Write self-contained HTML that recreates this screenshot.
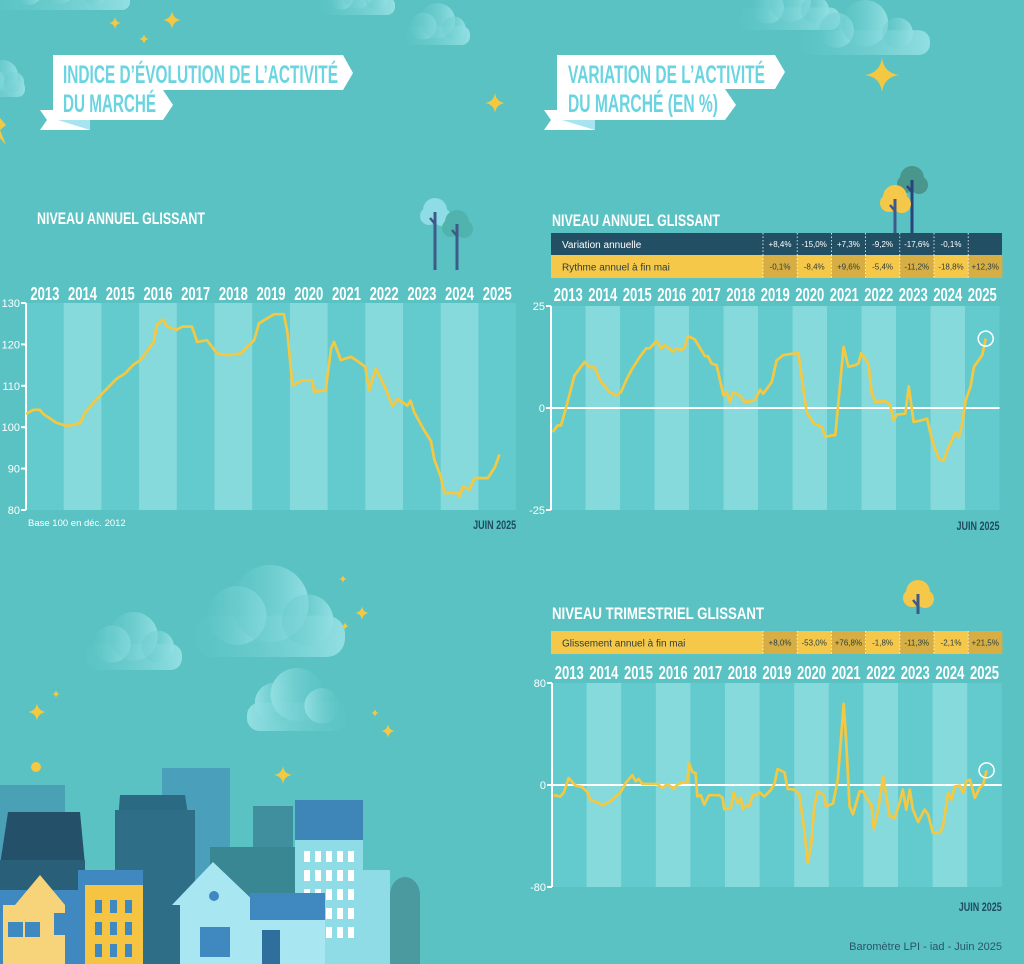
<!DOCTYPE html>
<html><head><meta charset="utf-8">
<style>
html,body{margin:0;padding:0;background:#5ac2c3;}
svg{display:block;}
.yr{font-family:"Liberation Sans Narrow","Liberation Sans",sans-serif;font-weight:bold;fill:#fff;font-size:18.5px;}
.tk{font-family:"Liberation Sans",sans-serif;fill:#fff;font-size:11px;}
.cell{font-family:"Liberation Sans",sans-serif;font-size:8px;text-anchor:middle;}
</style></head>
<body>
<svg id="root" width="1024" height="964" viewBox="0 0 1024 964" xmlns="http://www.w3.org/2000/svg">
<defs>
<linearGradient id="cg" x1="0" x2="1" y1="0" y2="0"><stop offset="0" stop-color="#5ec6c7" stop-opacity="0.3"/><stop offset="1" stop-color="#92dfe2"/></linearGradient>
<linearGradient id="cg2" x1="1" x2="0" y1="0" y2="0"><stop offset="0" stop-color="#5ec6c7" stop-opacity="0.3"/><stop offset="1" stop-color="#92dfe2"/></linearGradient>
</defs>
<rect width="1024" height="964" fill="#5ac2c3"/>
<g id="deco"></g>

<!-- Left title ribbon -->
<g>
<polygon points="40,110 53,110 53,120 90,120 90,130 40,130 47,120" fill="#ffffff"/>
<polygon points="58,120 90,120 90,130" fill="#a8e4ef"/>
<polygon points="53,55 343,55 353,73 343,90 163,90 173,105 163,120 53,120" fill="#fff"/>
<text x="63" y="83" textLength="275" lengthAdjust="spacingAndGlyphs" style="font-family:'Liberation Sans Narrow','Liberation Sans',sans-serif;font-weight:bold;font-size:25px;fill:#6ad4e0">INDICE D’ÉVOLUTION DE L’ACTIVITÉ</text>
<text x="63" y="112" textLength="93" lengthAdjust="spacingAndGlyphs" style="font-family:'Liberation Sans Narrow','Liberation Sans',sans-serif;font-weight:bold;font-size:25px;fill:#6ad4e0">DU MARCHÉ</text>
</g>
<!-- Right title ribbon -->
<g>
<polygon points="544,110 557,110 557,120 595,120 595,130 544,130 551,120" fill="#ffffff"/>
<polygon points="562,120 595,120 595,130" fill="#a8e4ef"/>
<polygon points="557,55 775,55 785,72 775,89 725,89 736,105 725,120 557,120" fill="#fff"/>
<text x="568" y="83" textLength="197" lengthAdjust="spacingAndGlyphs" style="font-family:'Liberation Sans Narrow','Liberation Sans',sans-serif;font-weight:bold;font-size:25px;fill:#6ad4e0">VARIATION DE L’ACTIVITÉ</text>
<text x="568" y="112" textLength="150" lengthAdjust="spacingAndGlyphs" style="font-family:'Liberation Sans Narrow','Liberation Sans',sans-serif;font-weight:bold;font-size:25px;fill:#6ad4e0">DU MARCHÉ (EN %)</text>
</g>

<text x="37" y="224" textLength="168" lengthAdjust="spacingAndGlyphs" style="font-family:'Liberation Sans Narrow','Liberation Sans',sans-serif;font-weight:bold;font-size:17px;fill:#fff">NIVEAU ANNUEL GLISSANT</text>
<text x="552" y="226" textLength="168" lengthAdjust="spacingAndGlyphs" style="font-family:'Liberation Sans Narrow','Liberation Sans',sans-serif;font-weight:bold;font-size:17px;fill:#fff">NIVEAU ANNUEL GLISSANT</text>
<text x="552" y="619" textLength="212" lengthAdjust="spacingAndGlyphs" style="font-family:'Liberation Sans Narrow','Liberation Sans',sans-serif;font-weight:bold;font-size:17px;fill:#fff">NIVEAU TRIMESTRIEL GLISSANT</text>

<g id="chartL"></g>
<g id="chartR"></g>
<g id="chartB"></g>
<g id="city"></g>

<text x="1002" y="950" text-anchor="end" style="font-family:'Liberation Sans',sans-serif;font-size:11px;fill:#2a5468">Baromètre LPI - iad - Juin  2025</text>
</svg>
<script>
// ===== DATA =====
const years = ["2013","2014","2015","2016","2017","2018","2019","2020","2021","2022","2023","2024","2025"];
const indexTicks = [80,90,100,110,120,130];
const indexDates = [2013.0,2013.2,2013.37,2013.46,2013.8,2014.08,2014.44,2014.57,2014.8,2015.06,2015.4,2015.63,2015.85,2016.03,2016.2,2016.39,2016.47,2016.63,2016.74,2017.0,2017.14,2017.4,2017.54,2017.8,2018.07,2018.34,2018.7,2019.05,2019.18,2019.58,2019.84,2019.93,2020.07,2020.33,2020.6,2020.64,2020.95,2021.09,2021.17,2021.35,2021.62,2021.88,2022.0,2022.1,2022.28,2022.5,2022.72,2022.86,2023.12,2023.2,2023.3,2023.57,2023.74,2023.83,2024.0,2024.1,2024.45,2024.5,2024.59,2024.76,2024.9,2025.25,2025.43,2025.56];
const indexValues = [103.2,104.2,104.2,103.2,101.1,100.3,101,103.6,106,108.5,111.7,113,115.1,116.2,118.2,120.6,124.7,126,124.3,123.5,124.3,124.3,120.6,121,117.8,117.4,117.8,121,125.1,127.3,127.3,123.1,110.1,111.3,111.3,108.6,108.9,119,120.6,116.2,117,115.4,114.6,108.9,114.1,110.1,105.2,106.8,105.2,106.4,103.6,99.1,96.7,92.2,88.1,84.1,84.1,83.3,85.7,84.9,87.7,87.7,90.2,93.4];

const annTicks = [-25,0,25];
const annDates = [2013.05,2013.19,2013.29,2013.44,2013.68,2013.97,2014.11,2014.26,2014.45,2014.7,2014.89,2015.03,2015.18,2015.33,2015.57,2015.76,2015.86,2016.05,2016.2,2016.3,2016.54,2016.63,2016.78,2016.88,2016.97,2017.17,2017.46,2017.55,2017.65,2017.8,2018.0,2018.09,2018.19,2018.28,2018.47,2018.62,2018.81,2018.91,2019.06,2019.15,2019.4,2019.54,2019.74,2020.17,2020.41,2020.61,2020.85,2020.95,2021.14,2021.24,2021.48,2021.62,2021.82,2021.91,2021.99,2022.2,2022.3,2022.4,2022.69,2022.83,2022.93,2023.03,2023.27,2023.37,2023.51,2023.76,2023.9,2024.05,2024.24,2024.39,2024.48,2024.73,2024.82,2024.92,2025.02,2025.16,2025.26,2025.5,2025.6];
const annValues = [-5.9,-4.3,-4.3,0.2,8,11.3,10,10,6.4,3.9,3.1,3.9,6.8,9.3,12.5,14.6,14.6,16.4,14.6,15.4,13.8,14.6,14.2,15,17.6,16.8,12.7,12.7,10.9,10.5,3.1,3.9,1.5,3.9,3.1,1.5,1.7,1.9,4.5,3.5,6.4,11.7,13,13.5,-1,-3.7,-4.7,-7.1,-6.7,-6.7,15,10.1,10.5,10.9,13.4,10.9,3.5,1.5,1.7,0.7,-3,-1.6,-1.4,5.3,-3.4,-3,-2.6,-8,-12.5,-12.9,-10.4,-5.9,-7.1,-3.9,1.9,5.2,10.1,13,17];
const annRow1 = ["+8,4%","-15,0%","+7,3%","-9,2%","-17,6%","-0,1%",""];
const annRow2 = ["-0,1%","-8,4%","+9,6%","-5,4%","-11,2%","-18,8%","+12,3%"];

const qTicks = [-80,0,80];
const qDates = [2013.05,2013.24,2013.34,2013.48,2013.68,2013.87,2014.01,2014.11,2014.35,2014.45,2014.69,2014.84,2014.98,2015.13,2015.32,2015.42,2015.51,2015.61,2016.04,2016.19,2016.33,2016.53,2016.62,2016.77,2016.91,2016.96,2017.06,2017.15,2017.2,2017.3,2017.4,2017.54,2017.83,2017.93,2017.98,2018.17,2018.25,2018.36,2018.46,2018.51,2018.6,2018.7,2018.8,2018.89,2018.99,2019.14,2019.33,2019.43,2019.52,2019.72,2019.81,2020.0,2020.15,2020.29,2020.39,2020.49,2020.58,2020.68,2020.78,2020.87,2020.92,2021.12,2021.26,2021.43,2021.5,2021.6,2021.7,2021.89,2021.99,2022.18,2022.23,2022.3,2022.42,2022.57,2022.76,2022.9,2023.05,2023.14,2023.24,2023.34,2023.43,2023.58,2023.77,2023.87,2024.01,2024.21,2024.3,2024.45,2024.55,2024.64,2024.79,2024.88,2024.98,2025.08,2025.22,2025.36,2025.46,2025.56];
const qValues = [-8,-9,-6,5.5,-0.5,-1.6,-5,-11.5,-14,-16,-12.8,-9,-6,1.6,7.6,2.9,4.7,0.8,0.8,-2.3,0.8,-3,0.3,2,2,17,10,9.4,-9,-8,-15.4,-8,-8,-10,-19,-18,-6,-14,-10,-19,-16,-16.7,-8,-8,-5.7,-9,-3.7,1,12.5,10,-3,-3.7,-7.6,-35,-61,-46.7,-16.7,-5,-6.3,-8.4,-16.7,-14.6,4.2,63.7,35.5,-16.7,-23,-5,-5,-14,-15,-34.5,-20.6,6.8,-24.5,-26,-14,-3.6,-19.3,-3.6,-19.3,-29,-19.3,-23,-37.6,-37.6,-32,-6.3,-11.5,-1,-0.5,-6.3,2.9,4.2,-10,-2.3,0.3,11.5];
const qRow = ["+8,0%","-53,0%","+76,8%","-1,8%","-11,3%","-2,1%","+21,5%"];

// ===== HELPERS =====
const NS="http://www.w3.org/2000/svg";
function mk(tag, attrs, parent){const e=document.createElementNS(NS,tag);for(const k in attrs)e.setAttribute(k,attrs[k]);if(parent)parent.appendChild(e);return e;}

function drawChart(g, cfg){
  const x = y=> cfg.x0 + (y-2013)*cfg.colW;
  const yv = v=> cfg.y0 + (cfg.vmax - v)/(cfg.vmax-cfg.vmin)*(cfg.y1-cfg.y0);
  const bg = mk('rect',{x:cfg.x0,y:cfg.y0,width:cfg.colW*13,height:cfg.y1-cfg.y0,fill:'#63cbce'},g);
  
  
  years.forEach((yr,i)=>{
    if(i%2===1){
      const b=mk('rect',{x:x(2013+i),y:cfg.y0,width:cfg.colW,height:cfg.y1-cfg.y0,fill:'#86dadb'},g);
      
      
    }
    const t=mk('text',{x:x(2013+i)+cfg.colW/2,y:cfg.yearY,'text-anchor':'middle',class:'yr',textLength:cfg.labW,lengthAdjust:'spacingAndGlyphs'},g);
    t.textContent=yr;
    
    
  });
  const ax=mk('line',{x1:cfg.x0,x2:cfg.x0,y1:cfg.y0,y2:cfg.y1,stroke:'#fff','stroke-width':2},g);
  
  
  cfg.ticks.forEach(v=>{
    const tl=mk('line',{x1:cfg.x0-5,x2:cfg.x0,y1:yv(v),y2:yv(v),stroke:'#fff','stroke-width':2},g);
    
    
    const tt=mk('text',{x:cfg.x0-6,y:yv(v)+4,'text-anchor':'end',class:'tk'},g);
    tt.textContent=v;
    
    
  });
  if(cfg.zero){
    const z=mk('line',{x1:cfg.x0,x2:cfg.x0+cfg.colW*13,y1:yv(0),y2:yv(0),stroke:'#fff','stroke-width':2},g);
    
    
  }
  const d=cfg.dates.map((t,i)=>(i?'L':'M')+x(t).toFixed(1)+','+yv(cfg.values[i]).toFixed(1)).join('');
  const p=mk('path',{d:d,fill:'none',stroke:'#f5c842','stroke-width':2.7,'stroke-linejoin':'round'},g);
  
  
  if(cfg.circle){
    const n=cfg.dates.length-1;
    const c=mk('circle',{cx:x(cfg.dates[n]),cy:yv(cfg.values[n]),r:7.5,fill:'none',stroke:'#fff','stroke-width':1.5},g);
    
    
  }
  const j=mk('text',{x:cfg.x0+cfg.colW*13,y:cfg.juinY,'text-anchor':'end',textLength:43,lengthAdjust:'spacingAndGlyphs',style:"font-family:'Liberation Sans Narrow','Liberation Sans',sans-serif;font-weight:bold;font-size:12px;fill:#1f4b60"},g);
  j.textContent='JUIN 2025';
  
  
}

drawChart(document.getElementById('chartL'),{x0:26,colW:37.7,y0:303,y1:510,vmin:80,vmax:130,ticks:indexTicks,dates:indexDates,values:indexValues,yearY:300,labW:29,juinY:529});
const bl=mk('text',{x:28,y:526,style:"font-family:'Liberation Sans',sans-serif;font-size:9.5px;fill:#fff"},document.getElementById('chartL'));
bl.textContent='Base 100 en déc. 2012';



drawChart(document.getElementById('chartR'),{x0:551,colW:34.5,y0:306,y1:510,vmin:-25,vmax:25,ticks:annTicks,dates:annDates,values:annValues,yearY:301,labW:29,juinY:530,zero:true,circle:true});
drawChart(document.getElementById('chartB'),{x0:552,colW:34.6,y0:683,y1:887,vmin:-80,vmax:80,ticks:qTicks,dates:qDates,values:qValues,yearY:679,labW:29,juinY:911,zero:true,circle:true});

function table(g, rows){
  rows.forEach(r=>{
    const rr=mk('rect',{x:551,y:r.y,width:451,height:r.h,fill:r.fill},g);
    
    
    const lab=mk('text',{x:562,y:r.y+r.h/2+4,style:"font-family:'Liberation Sans',sans-serif;font-size:10px;fill:"+r.tc},g);
    lab.textContent=r.label;
    
    
    r.vals.forEach((v,i)=>{
      const cx=763+i*34.2;
      if(r.alt && i%2===0){
        const c=mk('rect',{x:cx,y:r.y,width:34.2,height:r.h,fill:r.alt},g);
        
        
      }
      const s=mk('line',{x1:cx,x2:cx,y1:r.y,y2:r.y+r.h,stroke:'#fff','stroke-width':0.8,'stroke-dasharray':'1.5,2'},g);
      
      
      const t=mk('text',{x:cx+17,y:r.y+r.h/2+3,class:'cell',fill:r.tc},g);
      t.textContent=v;
      
      
    });
  });
}
table(document.getElementById('chartR'),[
 {y:233,h:22,fill:'#234f64',tc:'#ffffff',label:'Variation annuelle',vals:annRow1,name:'annual-variation'},
 {y:255,h:23,fill:'#f5c84a',alt:'#d6ae43',tc:'#2c3e40',label:'Rythme annuel à fin mai',vals:annRow2,name:'annual-rhythm'}]);
table(document.getElementById('chartB'),[
 {y:631,h:23,fill:'#f5c84a',alt:'#d6ae43',tc:'#2c3e40',label:'Glissement annuel à fin mai',vals:qRow,name:'quarterly-shift'}]);

// ===== DECORATIONS =====
const deco=document.getElementById('deco');
function cloud(x,y,w,h,flip){
  const g=mk('g',{fill:flip?'url(#cg2)':'url(#cg)'},deco);
  
  
  mk('rect',{x:x,y:y+h*0.55,width:w,height:h*0.45,rx:h*0.2},g);
  mk('circle',{cx:x+w*0.28,cy:y+h*0.55,r:h*0.32},g);
  mk('circle',{cx:x+w*0.5,cy:y+h*0.42,r:h*0.42},g);
  mk('circle',{cx:x+w*0.75,cy:y+h*0.6,r:h*0.28},g);
}
cloud(-10,-30,140,40); cloud(320,-25,75,40); cloud(405,3,65,42); cloud(740,-20,100,50); cloud(800,0,130,55); cloud(-20,60,45,37);
cloud(85,612,97,58); cloud(195,565,150,92); cloud(247,668,100,63,true);
function star(x,y,s){
  const p=mk('path',{d:`M${x},${y-s}Q${x+s*0.12},${y-s*0.12} ${x+s},${y}Q${x+s*0.12},${y+s*0.12} ${x},${y+s}Q${x-s*0.12},${y+s*0.12} ${x-s},${y}Q${x-s*0.12},${y-s*0.12} ${x},${y-s}Z`,fill:'#f5c842'},deco);
  
  
}
[[172,20,9],[115,23,6],[144,39,5],[495,103,10],[882,75,17],[37,712,9],[56,694,4],[362,613,7],[343,579,4],[345,626,4],[375,713,4],[388,731,7],[283,775,9]].forEach(s=>star(...s));
mk('path',{d:'M0,118 L6,125 L0,130 L6,145 L0,138Z',fill:'#f5c842'},deco);
mk('circle',{cx:36,cy:767,r:5,fill:'#f5c842'},deco);
function tree(x,y,c1,trunk,h){
  const g=mk('g',{},deco);
  
  
  mk('circle',{cx:x,cy:y,r:12,fill:c1},g);
  mk('circle',{cx:x-6,cy:y+6,r:9,fill:c1},g);
  mk('circle',{cx:x+7,cy:y+7,r:9,fill:c1},g);
  mk('line',{x1:x,x2:x,y1:y+2,y2:y+h,stroke:trunk,'stroke-width':3},g);
  mk('line',{x1:x,x2:x-5,y1:y+14,y2:y+8,stroke:trunk,'stroke-width':2.5},g);
}
tree(435,210,'#8ddce6','#3f5a8a',60); tree(457,222,'#51b3ad','#3f5a8a',48);
tree(912,178,'#48968c','#28447a',55); tree(895,197,'#f5c84a','#3f5a8a',36);
tree(918,592,'#f5c84a','#3f5a8a',22);

// ===== CITY =====
const city=document.getElementById('city');
function r(x,y,w,h,f){const e=mk('rect',{x:x,y:y,width:w,height:h,fill:f},city);return e;}
function poly(pts,f){return mk('polygon',{points:pts,fill:f},city);}
r(0,785,65,180,'#4aa0b5'); r(162,768,68,200,'#4a9fba'); r(253,806,40,160,'#3f8f9e');
poly('120,795 185,795 195,860 115,860','#2b6a82'); r(115,810,80,160,'#2e6f87');
poly('8,812 80,812 85,865 0,865','#24506a'); r(0,860,85,110,'#2a5f7a');
r(210,847,85,120,'#3a8794'); r(295,800,68,170,'#3f86b8'); r(295,840,68,130,'#8fdce6');
for(let i=0;i<5;i++)for(let j=0;j<5;j++){r(304+i*11,851+j*19,6,11,'#fff');}
r(360,870,30,100,'#8fdce6'); r(390,915,25,50,'#3f88c0');
mk('ellipse',{cx:405,cy:895,rx:15,ry:18,fill:'#4a9aa0'},city); r(390,895,30,70,'#4a9aa0');
r(0,890,85,80,'#3f88c0'); r(78,870,65,100,'#3f88c0');
poly('40,875 65,905 65,970 3,970 3,905 15,905','#f7d47a'); r(3,905,40,65,'#f7d47a');
r(85,885,58,85,'#f5c442');
for(let i=0;i<3;i++)for(let j=0;j<3;j++){r(95+i*15,900+j*22,7,13,'#3f88c0');}
r(8,922,15,15,'#3f88c0'); r(25,922,15,15,'#3f88c0'); r(54,913,20,22,'#3f88c0');
poly('213,862 258,905 250,905 250,970 180,970 180,905 172,905','#a8e6f2');
r(250,893,75,60,'#3f88c0'); r(250,920,75,50,'#a8e6f2');
r(200,927,30,30,'#3f88c0'); r(262,930,18,35,'#2e6f9e');
mk('circle',{cx:214,cy:896,r:5,fill:'#3f88c0'},city);
</script>
</body></html>
